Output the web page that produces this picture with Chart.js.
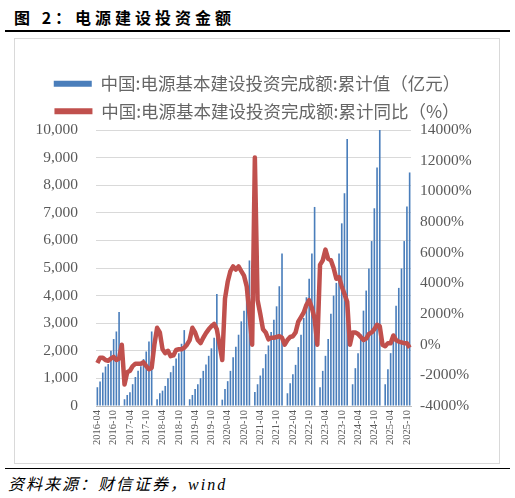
<!DOCTYPE html>
<html>
<head>
<meta charset="utf-8">
<script src="https://cdn.jsdelivr.net/npm/chart.js@4.4.1/dist/chart.umd.min.js"></script>
<style>
  html, body { margin: 0; padding: 0; background: #fff; width: 515px; height: 498px; overflow: hidden; }
  body { position: relative; font-family: "Noto Sans CJK SC", sans-serif; }
  #title { position: absolute; left: 14px; top: 5px; font-size: 16px; font-weight: bold; letter-spacing: 4px; color: #000; white-space: nowrap; }
  #titleRule { position: absolute; left: 5px; top: 30px; width: 505px; height: 2px; background: #000; }
  #box { position: absolute; left: 14px; top: 38px; width: 484px; height: 424px; border: 1px solid #d9d9d9; }
  #footRule { position: absolute; left: 5px; top: 468px; width: 505px; height: 1px; background: #000; }
  #source { position: absolute; left: 8px; top: 471px; font-size: 16px; font-style: italic; letter-spacing: 2px; color: #000; white-space: nowrap; }
</style>
</head>
<body>
<div id="title">图 2：电源建设投资金额</div>
<div id="titleRule"></div>
<div id="box"><canvas id="chart"></canvas></div>
<div id="footRule"></div>
<div id="source">资料来源：财信证券，<span style="font-family:'Liberation Serif'">wind</span></div>

<script>
// monthly axis, 2016-04 .. 2025-11 (January has no reading of its own)
const startYear = 2016, startMonth = 4;
const endYear = 2025, endMonth = 11;

// 累计值（亿元），null = January
const cumulativeValue = [
  680, 884, 1211, 1429, 1520, 2000, 2425, 2700, 3407,                 // 2016
  null, 245, 400, 500, 790, 1050, 1280, 1440, 1700, 1975, 2340, 2700,  // 2017
  null, 245, 460, 556, 727, 1007, 1225, 1455, 1720, 1915, 2255, 2750,  // 2018
  null, 245, 400, 620, 790, 1007, 1273, 1500, 1818, 2090, 2470, 4060,  // 2019
  null, 230, 620, 900, 1273, 1765, 2145, 2582, 3067, 3455, 4339, 5273, // 2020
  null, 509, 788, 1103, 1370, 1879, 2194, 2679, 3127, 3612, 4339, 5527, // 2021
  null, 462, 825, 1152, 1491, 2133, 2582, 3188, 3939, 4606, 5527, 7212, // 2022
  null, 680, 1273, 1818, 2424, 3345, 4000, 4460, 5527, 6618, 7709, 9673, // 2023
  null, 788, 1370, 1915, 2600, 3455, 4182, 4982, 5976, 7164, 8642, 10000, // 2024
  null, 788, 1333, 1915, 2500, 3636, 4279, 4982, 5976, 7224, 8461      // 2025
];

// 累计同比（%），the line drops to 0 at each January in the source chart
const cumulativeYoY = [
  -12, -8.5, -8.5, -10, -10.5, -9, -8, -10, -9,              // 2016
  0, -26, -18, -17, -14, -12.5, -12.5, -12.5, -11.5, -14, -16, -15, // 2017
  0, 11, 8, -3, -5.5, -4, -7.5, -7, -3.5, -3, -3, -2,         // 2018
  0, 3, 11, 8, 3, 1, 4.5, 7.5, 10, 12, 13.5, 10,              // 2019
  0, -10, 30, 41, 48, 51, 49, 51, 48, 45, 38, 20,             // 2020
  0, 122, 29, 20, 10, 8, 3.5, 4.5, 4.5, 5, 5.5, 4.5,          // 2021
  0, 3, 5, 5.5, 8, 15, 18, 21, 26, 29, 24, 17,                // 2022
  0, 52, 55, 62, 56, 55, 50, 43, 44, 38, 33, 28,              // 2023
  0, 8, 8, 7, 5, 3, 4, 7, 8, 10, 13, 12,                      // 2024
  0, -1, 1, 1, 6, 3, 2, 1.5, 1, 1, -2                         // 2025
];

const leftTicks = { min: 0, max: 10000, step: 1000 };
const rightTicks = { min: -40, max: 140, step: 20 };

const labelEvery = 6;
const barColor = "#4a7ebb";
const lineColor = "#c0504d";
const textGray = "#595959";

const monthLabels = [];
for (let y = startYear, m = startMonth; y < endYear || (y === endYear && m <= endMonth); m++) {
  if (m > 12) { m = 1; y++; }
  monthLabels.push(`${y}-${String(m).padStart(2, "0")}`);
}

const serif = "'Liberation Serif', 'Times New Roman', serif";

new Chart(document.getElementById("chart"), {
  data: {
    labels: monthLabels,
    datasets: [
      {
        type: "bar",
        label: "中国:电源基本建设投资完成额:累计值（亿元）",
        data: cumulativeValue,
        backgroundColor: barColor,
        borderWidth: 0,
        barPercentage: 0.6,
        categoryPercentage: 1,
        yAxisID: "y",
        order: 2,
      },
      {
        type: "line",
        label: "中国:电源基本建设投资完成额:累计同比（%）",
        data: cumulativeYoY,
        borderColor: lineColor,
        backgroundColor: lineColor,
        borderWidth: 4.5,
        pointRadius: 0,
        tension: 0,
        spanGaps: true,
        borderJoinStyle: "round",
        yAxisID: "y1",
        order: 1,
      },
    ],
  },
  options: {
    responsive: true,
    maintainAspectRatio: false,
    animation: false,
    layout: { padding: { top: 26, left: 0, right: 0, bottom: 0 } },
    plugins: {
      tooltip: { enabled: false },
      legend: {
        position: "top",
        labels: {
          boxWidth: 38,
          boxHeight: 6,
          padding: 10,
          color: "#666",
          font: { family: "'Noto Sans CJK SC'", size: 17.5 },
          sort: (a, b) => a.datasetIndex - b.datasetIndex,
          generateLabels: (chart) =>
            Chart.defaults.plugins.legend.labels.generateLabels(chart).map((item) => ({
              ...item,
              lineWidth: 0,
            })),
        },
      },
    },
    scales: {
      x: {
        grid: { display: false, drawTicks: false },
        border: { display: true, color: "#bfbfbf" },
        afterFit: (scale) => { scale.height = 57; },
        ticks: {
          autoSkip: false,
          maxRotation: 90,
          minRotation: 90,
          padding: 4,
          color: textGray,
          font: { family: serif, size: 10.5 },
          callback: function (value, index) {
            return index % labelEvery === 0 ? this.getLabelForValue(value) : "";
          },
        },
      },
      y: {
        position: "left",
        min: leftTicks.min,
        max: leftTicks.max,
        grid: { color: "#d9d9d9", drawTicks: false },
        border: { display: false },
        afterFit: (scale) => { scale.width = 81; },
        ticks: {
          stepSize: leftTicks.step,
          padding: 18,
          color: textGray,
          font: { family: serif, size: 15.5 },
          callback: (v) => v.toLocaleString("en-US"),
        },
      },
      y1: {
        position: "right",
        min: rightTicks.min,
        max: rightTicks.max,
        grid: { display: false, drawTicks: false },
        border: { display: false },
        afterFit: (scale) => { scale.width = 88; },
        ticks: {
          stepSize: rightTicks.step,
          padding: 9,
          color: textGray,
          font: { family: serif, size: 15.5 },
          callback: (v) => `${v * 100}%`,
        },
      },
    },
  },
});
</script>
</body>
</html>
